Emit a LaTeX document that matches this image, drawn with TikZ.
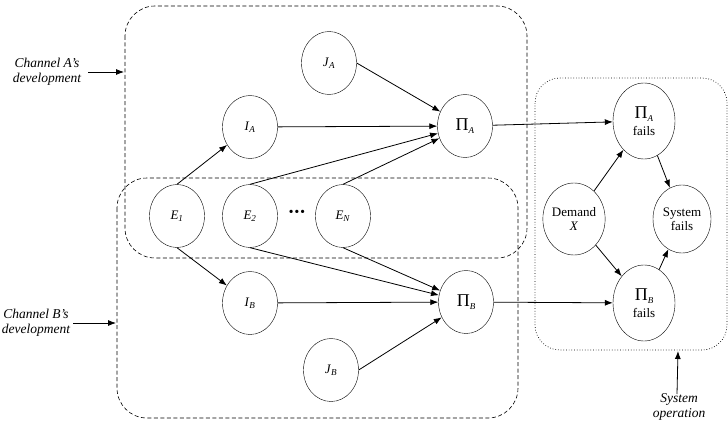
\documentclass[tikz,border=0pt]{standalone}
\usepackage{fontspec}
\setmainfont{Liberation Serif}
\usetikzlibrary{shapes.geometric,arrows.meta}
\newcommand\lab[2]{\textit{#1}\textsubscript{\textit{#2}}}
\newcommand\bigpi[1]{{\fontsize{18}{18}\selectfont Π}\raisebox{-3pt}{\fontsize{9}{9}\selectfont\textit{#1}}}
\begin{document}
\begin{tikzpicture}[x=1pt,y=-1pt,
  var/.style={draw,ellipse,minimum width=55pt,minimum height=63pt,inner sep=0pt,font=\fontsize{13}{14}\selectfont,align=center},
  sysvar/.style={var,minimum width=62pt,minimum height=74pt,font=\fontsize{13}{14}\selectfont},
  arr/.style={-{Latex[length=8pt,width=6pt]},line width=0.8pt},
  side/.style={font=\itshape\fontsize{13.5}{15}\selectfont,align=center},
  devbox/.style={draw,dash pattern=on 4pt off 2.5pt,rounded corners=30pt,line width=0.6pt},
  opbox/.style={draw,dotted,rounded corners=25pt,line width=0.7pt}]
\useasboundingbox (0,0) rectangle (728,428);
% boxes
\draw[devbox] (125,6) rectangle (527,258);
\draw[devbox] (117,178) rectangle (518,418);
\draw[opbox] (535,78) rectangle (727,350);
% nodes
\node[var] (JA) at (329,63) {\lab{J}{A}};
\node[var] (IA) at (250,127) {\lab{I}{A}};
\node[var] (PA) at (465,126) {\bigpi{A}};
\node[var] (E1) at (177,216) {\lab{E}{1}};
\node[var] (E2) at (250,216) {\lab{E}{2}};
\node (dots) at (297,214) {\fontsize{20}{20}\selectfont\bfseries ·\kern-1pt·\kern-1pt·};
\node[var] (EN) at (343,216) {\lab{E}{N}};
\node[var] (IB) at (250,303) {\lab{I}{B}};
\node[var] (PB) at (466,302) {\bigpi{B}};
\node[var] (JB) at (331,370) {\lab{J}{B}};
\node[sysvar,minimum height=76pt] (PAF) at (644,121) {\bigpi{A}\\[3pt]fails};
\node[sysvar,minimum height=72pt] (DX) at (574,219) {Demand\\\textit{X}};
\node[sysvar,minimum width=58pt,minimum height=68pt] (SF) at (682,219) {System\\fails};
\node[sysvar,minimum height=76pt] (PBF) at (644,303) {\bigpi{B}\\[3pt]fails};
% edges
\draw[arr] (E1.north) -- (IA);
\draw[arr] (E1.south) -- (IB);
\draw[arr] (IA) -- (PA);
\draw[arr] (JA.east) -- (PA);
\draw[arr] (E2.north) -- (PA);
\draw[arr] (EN.north) -- (PA);
\draw[arr] (IB) -- (PB);
\draw[arr] (JB.east) -- (PB);
\draw[arr] (E2.south) -- (PB);
\draw[arr] (EN.south) -- (PB);
\draw[arr] (PA) -- (PAF);
\draw[arr] (PB) -- (PBF);
\draw[arr] (DX) -- (PAF);
\draw[arr] (DX) -- (PBF);
\draw[arr] (PAF) -- (SF);
\draw[arr] (PBF) -- (SF);
% side labels
\node[side] (chA) at (47,72) {Channel A’s\\development};
\coordinate (chAend) at (124,72);
\draw[arr] (88,72) -- (chAend);
\node[side] (chB) at (36,323) {Channel B’s\\development};
\coordinate (chBend) at (116,323);
\draw[arr] (73,323) -- (chBend);
\node[side] (sop) at (679,407) {System\\operation};
\coordinate (sopend) at (678,351);
\draw[arr] (677,394) -- (sopend);
\end{tikzpicture}
\end{document}
